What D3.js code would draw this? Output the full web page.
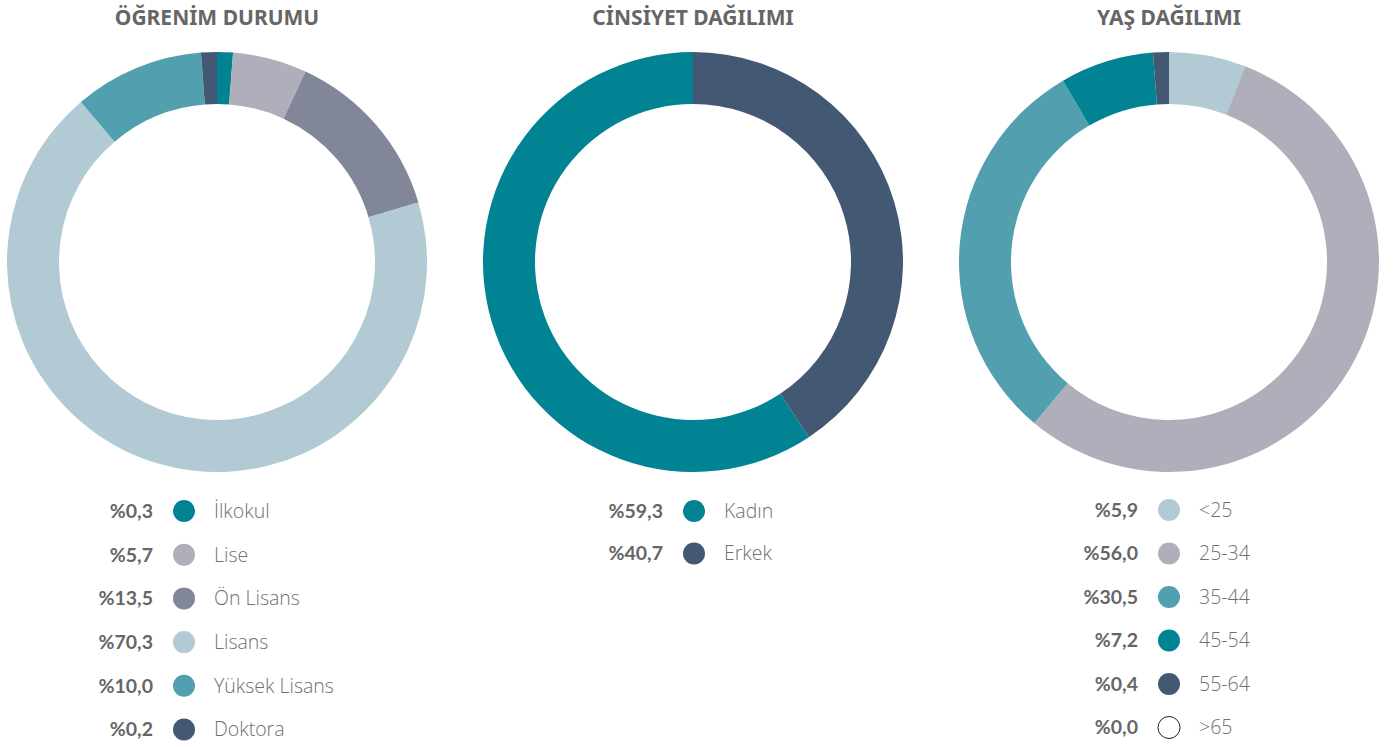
<!DOCTYPE html>
<html>
<head>
<meta charset="utf-8">
<script src="https://cdn.jsdelivr.net/npm/d3@7"></script>
<style>
  body { margin: 0; background: #fff; }
  .title { font-family: "Noto Sans", sans-serif; font-weight: 700; font-size: 21px; fill: #666; }
  .pct { font-family: Lato, sans-serif; font-weight: 700; font-size: 19.5px; fill: #666; }
  .lbl { font-family: "Open Sans", sans-serif; font-weight: 300; font-size: 19.5px; fill: #707070; }
</style>
</head>
<body>
<svg id="chart" width="1400" height="747"></svg>
<script>
// education
var eduNames = ["İlkokul", "Lise", "Ön Lisans", "Lisans", "Yüksek Lisans", "Doktora"];
var eduValues = [0.3, 5.7, 13.5, 70.3, 10.0, 0.2];
var eduColors = ["#028393", "#afafbb", "#828699", "#b1cad3", "#529faf", "#435872"];

// gender (drawn clockwise starting with Erkek)
var genNames = ["Kadın", "Erkek"];
var genValues = [59.3, 40.7];
var genColors = ["#028393", "#435872"];
var genDrawOrder = [1, 0];

// age
var ageNames = ["<25", "25-34", "35-44", "45-54", "55-64", ">65"];
var ageValues = [5.9, 56.0, 30.5, 7.2, 0.4, 0.0];
var ageColors = ["#b1cad3", "#afafbb", "#529faf", "#028393", "#435872", "#ffffff"];

var svg = d3.select("#chart");

var rOuter = 210, rInner = 158;
var minAngle = 4.4 * Math.PI / 180;

var arc = d3.arc().innerRadius(rInner).outerRadius(rOuter);

// pie with a minimum visible angle for tiny non-zero slices,
// the largest slice gives up the difference
function pieAngles(values) {
    var total = d3.sum(values);
    var ang = values.map(function(v) { return v / total * 2 * Math.PI; });
    var extra = 0;
    ang = ang.map(function(a) {
        if (a > 0 && a < minAngle) { extra += minAngle - a; return minAngle; }
        return a;
    });
    var big = d3.maxIndex(ang);
    ang[big] -= extra;
    var start = 0;
    return ang.map(function(a, i) {
        var d = { index: i, startAngle: start, endAngle: start + a };
        start += a;
        return d;
    });
}

function panel(opts) {
    var g = svg.append("g");

    g.append("text")
        .attr("class", "title")
        .attr("x", opts.cx)
        .attr("y", 25)
        .attr("text-anchor", "middle")
        .text(opts.title);

    var order = opts.order || d3.range(opts.values.length);
    var slices = pieAngles(order.map(function(i) { return opts.values[i]; }));

    g.append("g")
        .attr("transform", "translate(" + opts.cx + "," + opts.cy + ")")
        .selectAll("path")
        .data(slices.filter(function(d) { return d.endAngle > d.startAngle; }))
        .enter().append("path")
        .attr("d", arc)
        .attr("fill", function(d) { return opts.colors[order[d.index]]; });

    var rows = g.selectAll("g.row")
        .data(opts.names)
        .enter().append("g")
        .attr("class", "row")
        .attr("transform", function(d, i) {
            return "translate(0," + (opts.legY + i * opts.legStep) + ")";
        });

    rows.append("text")
        .attr("class", "pct")
        .attr("x", opts.dotX - 31)
        .attr("dy", "0.35em")
        .attr("text-anchor", "end")
        .text(function(d, i) { return "%" + opts.values[i].toFixed(1).replace(".", ","); });

    rows.append("circle")
        .attr("cx", opts.dotX)
        .attr("r", 11)
        .attr("fill", function(d, i) { return opts.colors[i]; })
        .attr("stroke", function(d, i) { return opts.values[i] === 0 ? "#222" : "none"; })
        .attr("stroke-width", 1);

    rows.append("text")
        .attr("class", "lbl")
        .attr("x", opts.dotX + 30)
        .attr("dy", "0.35em")
        .text(function(d) { return d; });
}

panel({ title: "ÖĞRENİM DURUMU", cx: 217, cy: 262, names: eduNames, values: eduValues,
        colors: eduColors, dotX: 184, legY: 511, legStep: 43.7 });
panel({ title: "CİNSİYET DAĞILIMI", cx: 693, cy: 262, names: genNames, values: genValues,
        colors: genColors, order: genDrawOrder, dotX: 694, legY: 511, legStep: 42.5 });
panel({ title: "YAŞ DAĞILIMI", cx: 1169, cy: 262, names: ageNames, values: ageValues,
        colors: ageColors, dotX: 1169, legY: 510, legStep: 43.5 });
</script>
</body>
</html>
